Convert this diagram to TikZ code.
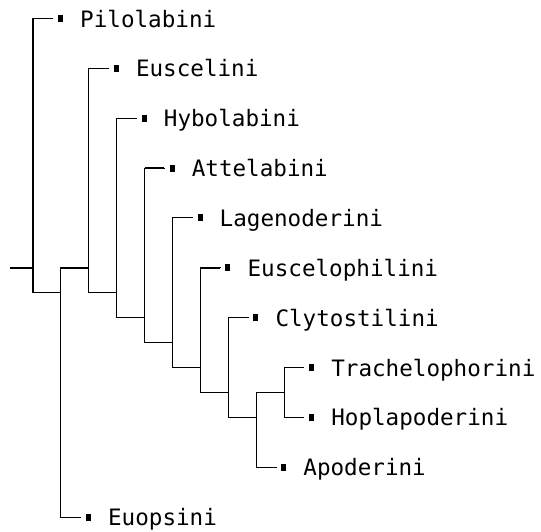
\documentclass[tikz,border=0pt]{standalone}
\usepackage{fontspec}
\newfontfamily\labfont{DejaVu Sans Mono}
\newcommand\ycoord[1]{18.5+24.93*#1}
\newcommand\xcoord[1]{33+27.9*#1}
\newcommand\leafnode[4]{%
  \node[tipmark] (m#1) at ({\xcoord{#2}+27.5},{\ycoord{#3}}) {};
  \node[leaflabel] (t#1) at ({\xcoord{#2}+47},{\ycoord{#3}+8.5}) {#4};
}
\begin{document}
\begin{tikzpicture}[x=1pt,y=-1pt,
  branch/.style={draw=black,line width=1.1pt,line cap=rect},
  leafbranch/.style={branch,shorten >=5pt},
  thickbranch/.style={draw=black,line width=2.2pt},
  tipmark/.style={rectangle,fill=black,minimum width=5pt,minimum height=7pt,inner sep=0pt},
  leaflabel/.style={anchor=base west,inner sep=0pt,font=\labfont\fontsize{22.6}{27}\selectfont}]
\useasboundingbox (0,0) rectangle (541,531);
% internal nodes
\coordinate (root) at (10,{\ycoord{10}});
\coordinate (R)  at ({\xcoord{0}},{\ycoord{10}});
\coordinate (N1) at ({\xcoord{1}},{\ycoord{11}});
\coordinate (N2) at ({\xcoord{2}},{\ycoord{10}});
\coordinate (N3) at ({\xcoord{3}},{\ycoord{11}});
\coordinate (N4) at ({\xcoord{4}},{\ycoord{12}});
\coordinate (N5) at ({\xcoord{5}},{\ycoord{13}});
\coordinate (N6) at ({\xcoord{6}},{\ycoord{14}});
\coordinate (N7) at ({\xcoord{7}},{\ycoord{15}});
\coordinate (N8) at ({\xcoord{8}},{\ycoord{16}});
\coordinate (N9) at ({\xcoord{9}},{\ycoord{15}});
% leaves
\leafnode{Pil}{0}{0}{Pilolabini}
\leafnode{Eus}{2}{2}{Euscelini}
\leafnode{Hyb}{3}{4}{Hybolabini}
\leafnode{Att}{4}{6}{Attelabini}
\leafnode{Lag}{5}{8}{Lagenoderini}
\leafnode{Eph}{6}{10}{Euscelophilini}
\leafnode{Cly}{7}{12}{Clytostilini}
\leafnode{Tra}{9}{14}{Trachelophorini}
\leafnode{Hop}{9}{16}{Hoplapoderini}
\leafnode{Apo}{8}{18}{Apoderini}
\leafnode{Euo}{1}{20}{Euopsini}
% connectors
\draw[thickbranch] (root) -- (R);
\draw[leafbranch] (R) |- (mPil.west);
\draw[branch] (R) |- (N1);
\draw[branch] (N1) |- (N2);
\draw[thickbranch] (N1 |- N2) -- (N2);
\draw[leafbranch] (N1) |- (mEuo.west);
\draw[leafbranch] (N2) |- (mEus.west);
\draw[branch] (N2) |- (N3);
\draw[leafbranch] (N3) |- (mHyb.west);
\draw[branch] (N3) |- (N4);
\draw[leafbranch] (N4) |- (mAtt.west);
\draw[thickbranch,shorten >=5pt] (N4 |- mAtt.west) -- (mAtt.west);
\draw[branch] (N4) |- (N5);
\draw[leafbranch] (N5) |- (mLag.west);
\draw[branch] (N5) |- (N6);
\draw[leafbranch] (N6) |- (mEph.west);
\draw[thickbranch,shorten >=5pt] (N6 |- mEph.west) -- (mEph.west);
\draw[branch] (N6) |- (N7);
\draw[leafbranch] (N7) |- (mCly.west);
\draw[branch] (N7) |- (N8);
\draw[branch] (N8) |- (N9);
\draw[leafbranch] (N8) |- (mApo.west);
\draw[leafbranch] (N9) |- (mTra.west);
\draw[leafbranch] (N9) |- (mHop.west);
\end{tikzpicture}
\end{document}
